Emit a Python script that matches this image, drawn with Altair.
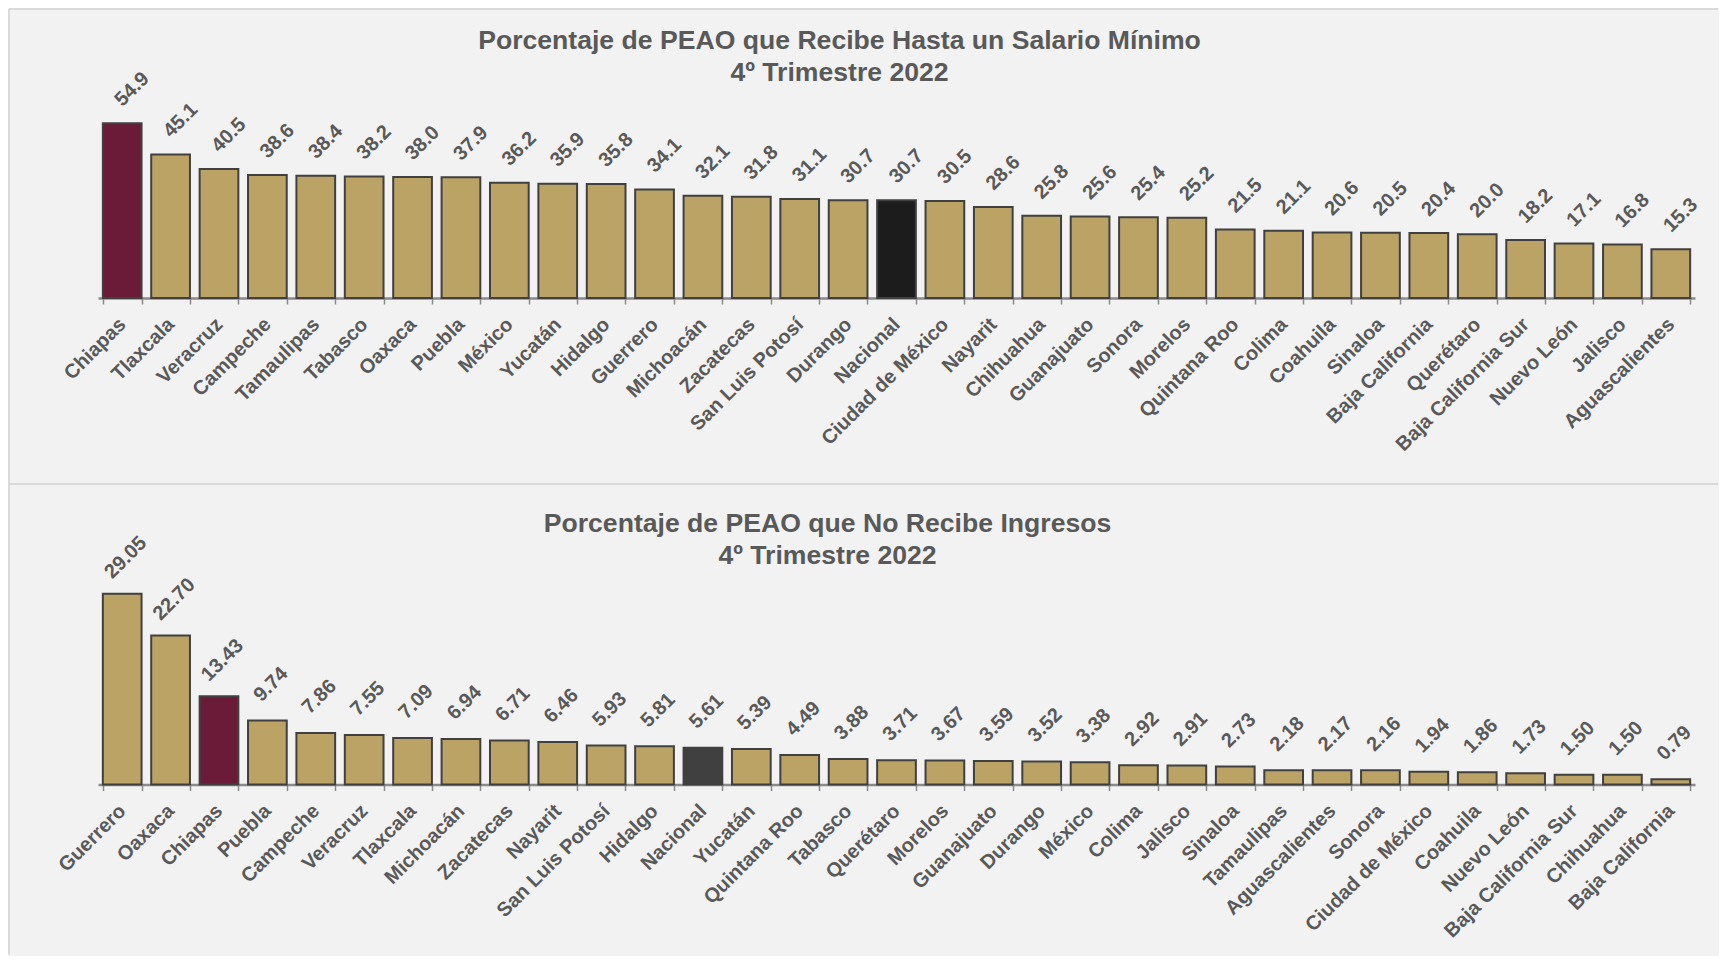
import altair as alt
import pandas as pd

# ---------------- data ----------------
estados_sm = ["Chiapas", "Tlaxcala", "Veracruz", "Campeche", "Tamaulipas", "Tabasco", "Oaxaca",
              "Puebla", "México", "Yucatán", "Hidalgo", "Guerrero", "Michoacán", "Zacatecas",
              "San Luis Potosí", "Durango", "Nacional", "Ciudad de México", "Nayarit", "Chihuahua",
              "Guanajuato", "Sonora", "Morelos", "Quintana Roo", "Colima", "Coahuila", "Sinaloa",
              "Baja California", "Querétaro", "Baja California Sur", "Nuevo León", "Jalisco",
              "Aguascalientes"]
valores_sm = [54.9, 45.1, 40.5, 38.6, 38.4, 38.2, 38.0, 37.9, 36.2, 35.9, 35.8, 34.1, 32.1, 31.8,
              31.1, 30.7, 30.7, 30.5, 28.6, 25.8, 25.6, 25.4, 25.2, 21.5, 21.1, 20.6, 20.5, 20.4,
              20.0, 18.2, 17.1, 16.8, 15.3]

estados_ni = ["Guerrero", "Oaxaca", "Chiapas", "Puebla", "Campeche", "Veracruz", "Tlaxcala",
              "Michoacán", "Zacatecas", "Nayarit", "San Luis Potosí", "Hidalgo", "Nacional",
              "Yucatán", "Quintana Roo", "Tabasco", "Querétaro", "Morelos", "Guanajuato", "Durango",
              "México", "Colima", "Jalisco", "Sinaloa", "Tamaulipas", "Aguascalientes", "Sonora",
              "Ciudad de México", "Coahuila", "Nuevo León", "Baja California Sur", "Chihuahua",
              "Baja California"]
valores_ni = [29.05, 22.70, 13.43, 9.74, 7.86, 7.55, 7.09, 6.94, 6.71, 6.46, 5.93, 5.81, 5.61,
              5.39, 4.49, 3.88, 3.71, 3.67, 3.59, 3.52, 3.38, 2.92, 2.91, 2.73, 2.18, 2.17, 2.16,
              1.94, 1.86, 1.73, 1.50, 1.50, 0.79]

titulo_sm = ["Porcentaje de PEAO que Recibe Hasta un Salario Mínimo", "4º Trimestre 2022"]
titulo_ni = ["Porcentaje de PEAO que No Recibe Ingresos", "4º Trimestre 2022"]


def grupo(e):
    if e == "Chiapas":
        return "Chiapas"
    if e == "Nacional":
        return "Nacional"
    return "Estado"


df_sm = pd.DataFrame({"estado": estados_sm, "valor": valores_sm,
                      "grupo": [grupo(e) for e in estados_sm]})
df_ni = pd.DataFrame({"estado": estados_ni, "valor": valores_ni,
                      "grupo": [grupo(e) for e in estados_ni]})

# ---------------- style ----------------
FONT = "Liberation Sans"
GRIS = "#595959"
DORADO = "#BBA366"
GUINDA = "#6B1A37"
BORDE = "#d9d9d9"
W = 1597


def panel(df, titulo, ymax, height, fmt, nac_color, title_offset, title_dx, rules,
          ldx, ldy):
    x = alt.X("estado:N", sort=None,
              scale=alt.Scale(paddingInner=0.2, paddingOuter=0.1),
              axis=alt.Axis(title=None, labelAngle=-45, labelAlign="right",
                            labelBaseline="middle", labelFont=FONT, labelFontSize=20,
                            labelFontWeight="bold", labelColor=GRIS, labelPadding=17,
                            labelLimit=400, labelOverlap=False, tickBand="extent",
                            tickSize=6, tickWidth=1.5, tickColor="#8a8a8a",
                            domainColor="#8a8a8a", domainWidth=2.5))
    y = alt.Y("valor:Q", scale=alt.Scale(domain=[0, ymax], nice=False, zero=True), axis=None)

    bars = alt.Chart(df).mark_bar(stroke="#404040", strokeWidth=2).encode(
        x=x, y=y,
        color=alt.Color("grupo:N",
                        scale=alt.Scale(domain=["Estado", "Chiapas", "Nacional"],
                                        range=[DORADO, GUINDA, nac_color]),
                        legend=None),
    )
    labels = alt.Chart(df).mark_text(angle=315, align="center", baseline="middle",
                                     dx=ldx, dy=ldy, font=FONT, fontSize=20,
                                     fontWeight="bold", color=GRIS).encode(
        x=x, y=y, text=alt.Text("valor:Q", format=fmt))

    layers = [bars, labels]
    for (x1, x2, y1, y2) in rules:
        r = alt.Chart(pd.DataFrame({"k": [0]})).mark_rule(color=BORDE, strokeWidth=2).encode(
            x=alt.value(x1), x2=alt.value(x2), y=alt.value(y1), y2=alt.value(y2))
        layers.append(r)

    return alt.layer(*layers).properties(
        width=W, height=height,
        title=alt.TitleParams(text=titulo, font=FONT, fontSize=26.6, fontWeight="bold",
                              color=GRIS, lineHeight=32, anchor="middle", frame="group",
                              baseline="alphabetic", offset=title_offset, dx=title_dx),
    )


top = panel(df_sm, titulo_sm, 60, 191, ".1f", "#1c1c1c", -100, -57,
            rules=[(-89, 1620, -98, -98),   # top border
                   (-89, -89, -98, 377),    # left border
                   (-89, 1620, 377, 377)],  # divider
            ldx=31, ldy=-17)
bottom = panel(df_ni, titulo_ni, 30, 197, ".2f", "#404040", -108, -69,
               rules=[(-89, -89, -103.5, 367)],
               ldx=28, ldy=-23)

chart = alt.vconcat(top, bottom, spacing=289.5, bounds="flush").resolve_scale(
    color="independent", x="independent"
).properties(
    background="#f2f2f2", padding=0,
).configure_view(stroke=None)

chart.save("out.html", embed_options={"renderer": "svg", "actions": False})
